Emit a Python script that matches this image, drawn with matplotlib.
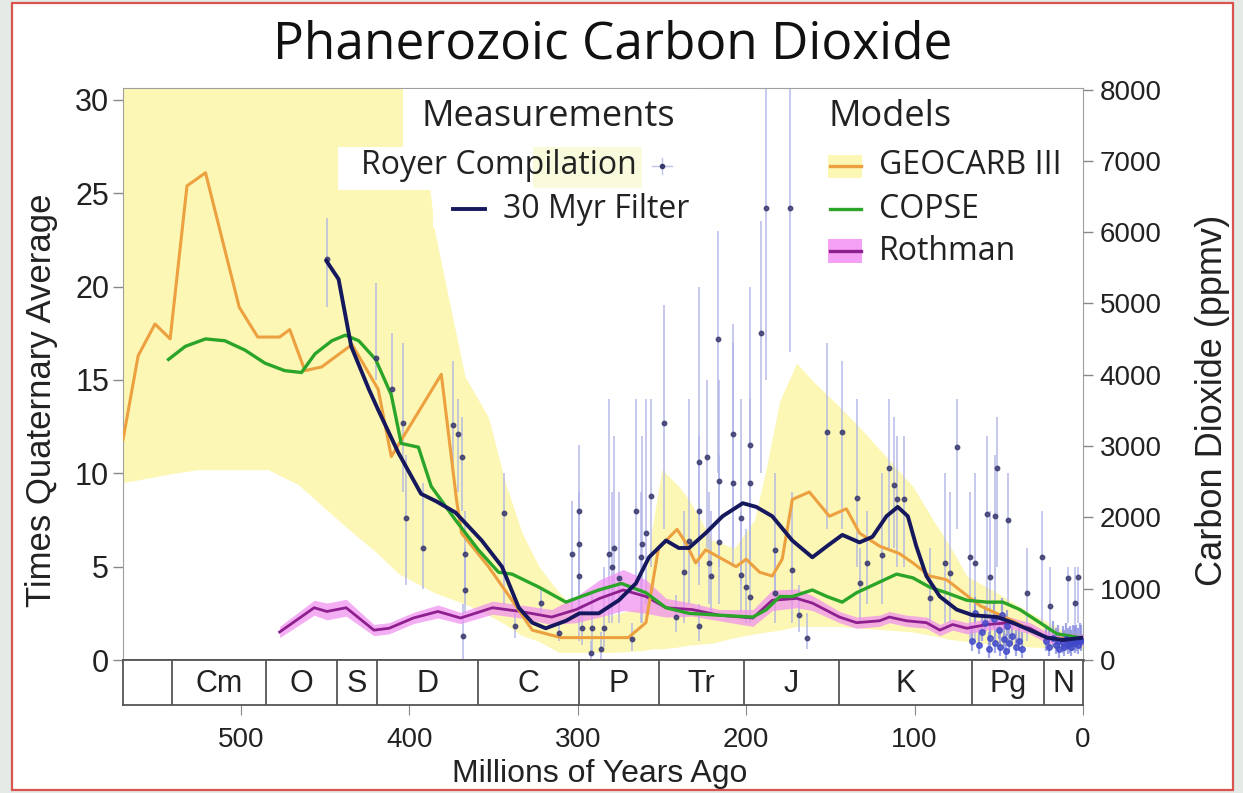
import matplotlib
matplotlib.use("Agg")
import matplotlib.pyplot as plt
from matplotlib.patches import Rectangle
from matplotlib.lines import Line2D
import numpy as np

# ---------------- data ----------------
geocarb_age = [570, 561, 551, 542, 532, 521, 501, 490, 477, 471, 462, 452, 434, 418.5, 410.7, 381, 372, 369,
               353, 339, 327, 310, 292, 270, 259.5, 256.5, 252, 241, 236, 230, 224, 214, 206, 200, 192, 184.5,
               178.6, 172.6, 162.5, 150.6, 140.5, 132.7, 120.8, 109, 101, 91, 81, 71, 61, 41.7, 31.5, 21.4, 1.8, 0]
geocarb_val = [11.8, 16.3, 18.0, 17.2, 25.4, 26.1, 18.9, 17.3, 17.3, 17.7, 15.5, 15.7, 16.9, 14.5, 10.9, 15.3, 8.6, 6.8,
               5.0, 3.2, 1.6, 1.2, 1.2, 1.2, 2.0, 3.6, 6.0, 7.0, 6.3, 5.2, 5.9, 5.4, 5.0, 5.4, 4.7, 4.5,
               5.4, 8.6, 9.0, 7.7, 8.1, 6.8, 6.1, 5.7, 5.2, 4.5, 4.3, 3.6, 2.9, 2.1, 1.6, 1.2, 1.07, 1.1]

band_age = [570, 540, 525, 484, 466, 436, 420, 406, 385, 367, 353, 343, 333, 323, 311, 300, 280, 262, 256,
            250, 240, 234, 220, 207, 195, 188, 180, 170, 161, 145, 131, 115, 101, 89, 79, 69, 51, 31, 12, 0]
band_hi = [40, 40, 40, 40, 40, 40, 40, 40, 23, 15.2, 13, 9.5, 6.8, 5.0, 3.6, 2.6, 2.4, 2.8, 7.0,
           10.2, 9.3, 8.6, 6.4, 6.0, 7.5, 10.3, 13.9, 15.9, 15.0, 13.6, 12.3, 10.7, 9.3, 7.5, 6.1, 4.5, 3.6, 2.5, 1.6, 1.4]
band_lo = [9.5, 10.0, 10.2, 10.2, 9.4, 7.0, 5.8, 4.6, 3.6, 3.0, 2.4, 1.9, 1.3, 1.0, 0.4, 0.4, 0.4, 0.5, 0.6,
           0.6, 0.7, 0.8, 0.9, 1.2, 1.4, 1.5, 1.6, 1.8, 1.8, 1.8, 1.7, 1.6, 1.5, 1.3, 1.1, 1.0, 0.8, 0.7, 0.6, 0.6]

copse_age = [543, 533, 521, 509.5, 497.6, 485.7, 474, 464, 456, 446, 438, 430, 420, 410.7, 404.8, 394.6, 387,
             372.6, 359, 347, 339, 323, 307, 295, 287.5, 274, 259.5, 247.6, 234, 216, 196, 188, 180, 172.6,
             160.7, 152, 143, 134.5, 122.6, 110.7, 101, 91, 81, 69, 57, 47.6, 37.5, 25.6, 15.5, 1.8, 0]
copse_val = [16.1, 16.8, 17.2, 17.1, 16.6, 15.9, 15.5, 15.4, 16.4, 17.1, 17.4, 17.1, 16.1, 14.2, 11.6, 11.4, 9.3,
             7.5, 5.9, 4.7, 4.6, 3.9, 3.1, 3.5, 3.75, 4.1, 3.6, 2.8, 2.5, 2.4, 2.3, 2.7, 3.4, 3.4,
             3.75, 3.4, 3.1, 3.6, 4.1, 4.6, 4.4, 3.9, 3.6, 3.2, 3.1, 3.1, 2.7, 2.0, 1.4, 1.2, 1.2]

rothman_age = [477, 456.5, 449, 437.5, 421, 412, 397.6, 383, 369.6, 350.6, 334, 315.5, 301, 287, 273,
               259.5, 247.6, 232, 216, 196, 184.5, 170, 160.7, 144.6, 134.5, 120.8, 115, 104.8, 93, 85,
               77.4, 69, 57, 43.5, 31.5, 21.4, 1.8, 0]
rothman_val = [1.5, 2.8, 2.6, 2.8, 1.6, 1.7, 2.25, 2.6, 2.25, 2.8, 2.6, 2.3, 2.7, 3.3, 3.75,
               3.4, 2.8, 2.7, 2.4, 2.25, 3.2, 3.3, 3.05, 2.3, 2.0, 2.1, 2.3, 2.1, 2.0, 1.6,
               1.9, 1.7, 1.9, 2.0, 1.7, 1.2, 1.07, 1.1]
rothman_err = [0.3, 0.4, 0.45, 0.45, 0.3, 0.3, 0.3, 0.35, 0.3, 0.35, 0.35, 0.4, 0.7, 1.0, 1.1,
               0.9, 0.5, 0.35, 0.3, 0.45, 0.55, 0.5, 0.4, 0.3, 0.3, 0.3, 0.3, 0.3, 0.3, 0.3,
               0.3, 0.3, 0.3, 0.3, 0.3, 0.3, 0.3, 0.3]

filter_age = [449.4, 442, 434.5, 424, 418.5, 406.5, 393, 384, 372.6, 357, 345, 335, 327, 319, 307, 299,
              287.5, 275.6, 265.5, 257.7, 247.6, 240, 234, 224, 214, 202, 194, 184.5, 172.6, 160.7, 152,
              142.9, 132.7, 125, 116.7, 110, 104, 99, 93, 85, 75, 65.5, 51, 41.7, 31.5, 21.4, 11.9, 0]
filter_val = [21.4, 20.4, 16.8, 14.5, 13.4, 11.1, 8.9, 8.5, 7.9, 6.4, 5.0, 2.8, 2.0, 1.7, 2.1, 2.5,
              2.5, 3.2, 4.1, 5.5, 6.4, 6.0, 6.0, 6.8, 7.7, 8.4, 8.2, 7.7, 6.4, 5.5, 6.1,
              6.7, 6.3, 6.6, 7.7, 8.2, 7.7, 6.1, 4.5, 3.4, 2.7, 2.4, 2.3, 2.0, 1.6, 1.2, 1.07, 1.2]

royer_age = [449, 420, 410, 404, 402, 392, 374, 371, 369, 367, 366.7, 368, 343.5, 337, 322, 311, 303.6,
             299.4, 299.4, 299.4, 297.6, 291.7, 292, 286, 284.5, 281.5, 278.6, 279.8, 275.6, 268, 265.5,
             262, 262.5, 259.5, 256.5, 248.8, 241.7, 237, 234, 228, 228, 228, 223, 222, 221, 216.7, 216,
             216, 208, 208, 203, 203, 200, 198, 198, 198, 191, 188, 183, 183, 174, 172.6, 168.5, 163.7,
             152, 143, 134, 132.7, 128, 119.6, 115, 112, 110.7, 106, 91, 82, 79, 75, 67, 64, 57, 51, 52,
             44.6, 55, 24.4, 33, 19.6, 8.9, 3, 4.8]
royer_val = [21.5, 16.2, 14.5, 12.7, 7.6, 6.0, 12.6, 12.1, 10.9, 5.7, 3.75, 1.3, 7.9, 1.8, 3.05, 1.45, 5.7,
             8.0, 6.2, 4.5, 1.7, 1.7, 0.4, 0.6, 1.7, 5.7, 6.0, 5.0, 4.4, 1.1, 8.0,
             6.2, 5.5, 6.8, 8.8, 12.7, 2.3, 4.7, 6.4, 10.6, 8.0, 1.8, 10.9, 5.2, 4.5, 17.2, 9.6,
             6.3, 12.1, 9.5, 7.6, 4.55, 3.9, 11.5, 9.5, 3.4, 17.5, 24.2, 5.9, 3.6, 24.2, 4.8, 2.4, 1.2,
             12.2, 12.2, 8.7, 4.1, 5.2, 5.6, 10.3, 9.4, 8.6, 8.6, 3.3, 5.2, 4.65, 11.4, 5.5, 5.2, 7.8, 10.3, 7.7,
             7.5, 4.45, 5.5, 3.6, 2.9, 4.4, 4.45, 3.05]
royer_lo = [18.9, 15.0, 13.9, 9.0, 4.0, 3.8, 10.0, 9.0, 8.0, 3.5, 2.5, 0.0, 3.0, 1.2, 2.5, 1.0, 2.5,
            1.0, 3.0, 2.0, 0.8, 0.5, 0.0, 0.0, 0.7, 2.0, 3.0, 2.0, 2.0, 0.5, 4.0,
            2.0, 2.0, 3.0, 5.0, 7.0, 1.5, 2.0, 3.0, 5.0, 4.0, 1.0, 6.0, 3.0, 2.5, 10.0, 5.0,
            3.0, 6.0, 5.0, 4.0, 2.5, 2.0, 6.0, 5.0, 2.0, 10.0, 15.0, 3.0, 2.0, 16.5, 2.0, 1.5, 0.6,
            7.0, 7.0, 5.0, 2.0, 3.0, 3.0, 6.0, 6.0, 5.0, 5.0, 2.0, 2.0, 2.0, 7.0, 1.0, 1.0, 2.0, 5.0, 3.0,
            3.0, 1.0, 2.0, 1.0, 1.0, 2.0, 2.0, 1.5]
royer_hi = [23.7, 20.2, 17.5, 17.0, 11.0, 9.5, 16.0, 14.0, 13.0, 8.0, 6.0, 3.0, 10.0, 2.5, 3.8, 2.0, 8.5,
            11.5, 9.0, 7.0, 3.0, 3.5, 1.0, 1.5, 5.0, 14.0, 12.0, 9.0, 9.0, 2.0, 14.0,
            12.0, 9.0, 14.0, 14.0, 19.0, 3.5, 8.0, 14.0, 20.0, 12.0, 3.0, 15.0, 9.0, 8.0, 23.0, 15.0,
            11.0, 18.0, 17.0, 14.0, 8.0, 7.0, 20.0, 14.0, 6.0, 23.5, 31.0, 10.0, 6.0, 31.0, 9.0, 4.0, 2.5,
            17.0, 16.0, 14.0, 6.0, 8.0, 10.0, 14.0, 13.0, 12.0, 12.0, 6.0, 10.0, 9.0, 14.0, 9.0, 10.0, 12.0, 13.0, 11.0,
            10.0, 8.0, 8.0, 6.0, 5.0, 5.0, 5.0, 5.0]

cluster_age = [66, 64, 62, 60, 58, 56, 55, 53, 52, 50, 49, 48, 47, 46, 45, 44, 42, 40, 38, 36,
               22, 20, 18, 16, 15, 14, 12, 11, 10, 9, 8, 7, 6, 5, 4, 3, 2, 1]
cluster_val = [1.0, 2.5, 0.8, 1.5, 2.0, 0.6, 1.2, 2.2, 0.9, 1.6, 0.7, 2.4, 1.1, 0.5, 1.8, 0.9, 1.3, 0.7, 1.0, 0.6,
               1.0, 0.7, 1.2, 0.8, 1.0, 0.6, 0.9, 0.7, 1.1, 0.8, 0.9, 0.7, 1.0, 0.9, 1.0, 0.8, 1.1, 1.0]

period_names = ["", "Cm", "O", "S", "D", "C", "P", "Tr", "J", "K", "Pg", "N"]
period_bounds = [570, 541, 485, 443, 419, 359, 299, 252, 201, 145, 66, 23, 0]

xticks = [500, 400, 300, 200, 100, 0]
left_ticks = [0, 5, 10, 15, 20, 25, 30]
right_ticks = [0, 1000, 2000, 3000, 4000, 5000, 6000, 7000, 8000]

# ---------------- figure ----------------
W, H = 1243, 793
fig = plt.figure(figsize=(W / 100, H / 100), dpi=100, facecolor='#e4ebe7')


def fx(x):
    return x / W


def fy(y):
    return 1 - y / H


fig.add_artist(Rectangle((fx(12), fy(790)), fx(1233) - fx(12), fy(3) - fy(790),
                         transform=fig.transFigure, facecolor='white', edgecolor='#d9534f',
                         lw=1.6, zorder=-10))

SANS = 'Liberation Sans'
LEGFONT = ['Open Sans', 'DejaVu Sans']
TXT = '#222222'

L, R, T, B, SB = 123, 1083, 88, 660, 705
ax = fig.add_axes([fx(L), fy(B), fx(R) - fx(L), fy(T) - fy(B)])
ax.set_xlim(570, 0)
ax.set_ylim(0, 30.64)
ax.set_facecolor('white')

YEL = '#fcf7b4'
ax.fill_between(band_age, band_lo, band_hi, color=YEL, lw=0, zorder=1)

# Royer error bars and points
r_age = np.array(royer_age)
r_val = np.array(royer_val)
yerr = [r_val - np.array(royer_lo), np.array(royer_hi) - r_val]
ax.errorbar(r_age, r_val, yerr=yerr, fmt='none', ecolor='#aeb3e6', elinewidth=1.4,
            alpha=0.7, zorder=2)
c_val = np.array(cluster_val)
ax.errorbar(cluster_age, c_val, yerr=[np.minimum(c_val, 0.5), np.full_like(c_val, 0.9)],
            fmt='none', ecolor='#8a90e0', elinewidth=1.6, alpha=0.8, zorder=2)

# Rothman band
rv = np.array(rothman_val)
re = np.array(rothman_err)
ax.fill_between(rothman_age, rv - re, rv + re, color='#f08cf0', alpha=0.7, lw=0, zorder=3)

ax.plot(rothman_age, rothman_val, color='#8e1f8e', lw=2.0, zorder=4, solid_joinstyle='round')
ax.plot(geocarb_age, geocarb_val, color='#eca040', lw=2.2, zorder=5, solid_joinstyle='round')
ax.plot(copse_age, copse_val, color='#2aa52a', lw=2.4, zorder=6, solid_joinstyle='round')
ax.plot(filter_age, filter_val, color='#16185e', lw=2.8, zorder=8,
        solid_capstyle='round', solid_joinstyle='round')

ax.plot(r_age, r_val, 'o', ms=3.2, color='#3a3a70', alpha=0.85, zorder=7)
ax.plot(cluster_age, cluster_val, 'o', ms=4, color='#3f48c8', alpha=0.8, zorder=7)

ax.set_yticks(left_ticks)
ax.set_yticklabels([str(v) for v in left_ticks], fontdict=dict(family=SANS, size=22), color=TXT)
ax.set_xticks([])
ax.tick_params(axis='y', direction='out', length=7, color='#888888', width=1, pad=3)
for s in ['left', 'top', 'right']:
    ax.spines[s].set_color('#a0a0a0')
ax.spines['bottom'].set_color('#606060')
ax.spines['bottom'].set_linewidth(2)

ax2 = ax.twinx()
ax2.set_ylim(0, 8022)
ax2.set_yticks(right_ticks)
ax2.set_yticklabels([str(v) for v in right_ticks], fontdict=dict(family=SANS, size=20), color=TXT)
ax2.tick_params(axis='y', direction='out', length=7, color='#888888', width=1, pad=5)
for s in ['left', 'top', 'right', 'bottom']:
    ax2.spines[s].set_visible(False)

# Period strip
axs = fig.add_axes([fx(L), fy(SB), fx(R) - fx(L), fy(B) - fy(SB)])
axs.set_xlim(570, 0)
axs.set_ylim(0, 1)
axs.set_yticks([])
for i, name in enumerate(period_names):
    x0, x1 = period_bounds[i], period_bounds[i + 1]
    if i > 0:
        axs.axvline(x0, color='#555555', lw=1.3)
    axs.text((x0 + x1) / 2, 0.47, name, ha='center', va='center',
             fontdict=dict(family=SANS, size=22), color=TXT)
for s in axs.spines.values():
    s.set_color('#555555')
    s.set_linewidth(1.3)
axs.set_xticks(xticks)
axs.set_xticklabels([str(v) for v in xticks], fontdict=dict(family=SANS, size=20), color=TXT)
axs.tick_params(axis='x', direction='out', length=7, color='#888888', pad=9)

# axis labels & title
fig.text(fx(613), fy(45), 'Phanerozoic Carbon Dioxide', ha='center', va='center',
         family=LEGFONT, fontsize=37, color='#111111')
fig.text(fx(42), fy(400), 'Times Quaternary Average', rotation=90, ha='center', va='center',
         family=SANS, fontsize=25, color=TXT)
fig.text(fx(1212), fy(400), 'Carbon Dioxide (ppmv)', rotation=90, ha='center', va='center',
         family=SANS, fontsize=26, color=TXT)
fig.text(fx(600), fy(774), 'Millions of Years Ago', ha='center', va='center',
         family=SANS, fontsize=23, color=TXT)


# Legend backgrounds
def rect(x0, y0, x1, y1, color, z=20):
    fig.add_artist(Rectangle((fx(x0), fy(y1)), fx(x1) - fx(x0), fy(y0) - fy(y1),
                             transform=fig.transFigure, facecolor=color, edgecolor='none', zorder=z))


rect(403, 89, 700, 147, 'white')
rect(338, 147, 533, 190, 'white')
rect(533, 147, 642, 188, '#fafadc')
rect(433, 188, 705, 228, 'white')

LZ = 25
fig.text(fx(548), fy(117), 'Measurements', ha='center', va='center', family=LEGFONT,
         fontsize=26, color=TXT, zorder=LZ)
fig.text(fx(637), fy(166), 'Royer Compilation', ha='right', va='center', family=LEGFONT,
         fontsize=23, color=TXT, zorder=LZ)
fig.text(fx(503), fy(209), '30 Myr Filter', ha='left', va='center', family=LEGFONT,
         fontsize=23, color=TXT, zorder=LZ)
fig.add_artist(Line2D([fx(453), fx(485)], [fy(209), fy(209)], color='#16185e', lw=2.8, zorder=LZ))
fig.add_artist(Line2D([fx(652), fx(672)], [fy(166), fy(166)], color='#c0c4ea', lw=1, zorder=LZ))
fig.add_artist(Line2D([fx(662), fx(662)], [fy(158), fy(174)], color='#c0c4ea', lw=1, zorder=LZ))
fig.add_artist(Line2D([fx(662)], [fy(166)], marker='o', ms=3, color='#3a3a70', lw=0, zorder=LZ))

fig.text(fx(829), fy(117), 'Models', ha='left', va='center', family=LEGFONT,
         fontsize=26, color=TXT, zorder=LZ)
rect(828, 155, 862, 178, YEL, z=21)
rect(828, 239, 862, 263, '#f4a0f4', z=21)
fig.add_artist(Line2D([fx(830), fx(861)], [fy(166), fy(166)], color='#eca040', lw=2.4, zorder=LZ))
fig.add_artist(Line2D([fx(830), fx(861)], [fy(209), fy(209)], color='#2aa52a', lw=2.4, zorder=LZ))
fig.add_artist(Line2D([fx(830), fx(861)], [fy(251), fy(251)], color='#8e1f8e', lw=2.4, zorder=LZ))
fig.text(fx(879), fy(166), 'GEOCARB III', ha='left', va='center', family=LEGFONT,
         fontsize=23, color=TXT, zorder=LZ)
fig.text(fx(879), fy(209), 'COPSE', ha='left', va='center', family=LEGFONT,
         fontsize=23, color=TXT, zorder=LZ)
fig.text(fx(879), fy(251), 'Rothman', ha='left', va='center', family=LEGFONT,
         fontsize=23, color=TXT, zorder=LZ)

fig.savefig('out.png', dpi=100, facecolor=fig.get_facecolor())
